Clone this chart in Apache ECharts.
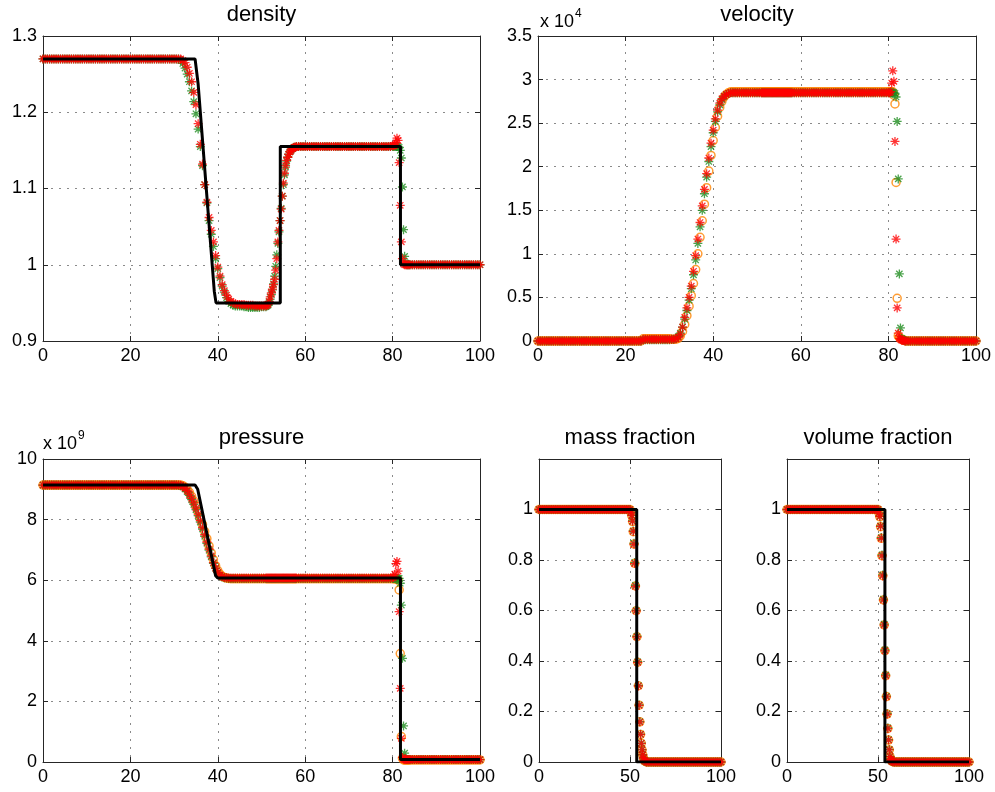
<!DOCTYPE html>
<html><head><meta charset="utf-8">
<script src="https://cdn.jsdelivr.net/npm/echarts@6/dist/echarts.min.js"></script>
<style>html,body{margin:0;padding:0;background:#fff}#c{width:995px;height:792px}</style>
</head><body><div id="c"></div>
<script>
// ---------- shared x grid (cell positions) for density / velocity / pressure ----------
const X = [
  0,0.5,1,1.5,2,2.5,3,3.5,4,4.5, 5,5.5,6,6.5,7,7.5,8,8.5,9,9.5, 10,10.5,11,11.5,12,12.5,13,13.5,14,14.5,
  15,15.5,16,16.5,17,17.5,18,18.5,19,19.5, 20,20.5,21,21.5,22,22.5,23,23.5,24,24.5, 25,25.5,26,26.5,27,27.5,28,28.5,29,29.5, 30,
  30.5,31,31.5,32,32.5,33,33.5,34,34.5,35, 35.5,36,36.5,37,37.5,38,38.5,39,39.5,40, 40.5,41,41.5,42,42.5,43,43.5,44,44.5,45,
  45.5,46,46.5,47,47.5,48,48.5,49,49.5,50,50.5,51,
  51.25,51.5,51.75,52,52.25,52.5,52.75,53,53.25,53.5,53.75,54,54.25,54.5,54.75,55,55.25,55.5,55.75,56,56.25,56.5,56.75,57,57.25,57.5,57.75,58,
  58.5,59,59.5,60,60.5,61,61.5,62,62.5,63, 63.5,64,64.5,65,65.5,66,66.5,67,67.5,68, 68.5,69,69.5,70,70.5,71,71.5,72,72.5,73,
  73.5,74,74.5,75,75.5,76,76.5,77,77.5,78, 78.5,79,79.5,80,
  80.25,80.5,80.75,81,81.25,81.5,81.75,82,82.25,82.5,82.75,83,83.25,83.5,83.75,84,
  84.5,85,85.5,86,86.5,87,87.5,88,88.5,89, 89.5,90,90.5,91,91.5,92,92.5,93,93.5,94, 94.5,95,95.5,96,96.5,97,97.5,98,98.5,99, 99.5,100
];

// ---------- density ----------
const densRed = [
  1.27,1.27,1.27,1.27,1.27,1.27,1.27,1.27,1.27,1.27, 1.27,1.27,1.27,1.27,1.27,1.27,1.27,1.27,1.27,1.27, 1.27,1.27,1.27,1.27,1.27,1.27,1.27,1.27,1.27,1.27,
  1.27,1.27,1.27,1.27,1.27,1.27,1.27,1.27,1.27,1.27, 1.27,1.27,1.27,1.27,1.27,1.27,1.27,1.27,1.27,1.27, 1.27,1.27,1.27,1.27,1.27,1.27,1.27,1.27,1.27,1.27, 1.27,
  1.27,1.27,1.27,1.268,1.265,1.259,1.251,1.24,1.226,1.21, 1.185,1.158,1.132,1.105,1.082,1.062,1.045,1.03,1.012,0.997, 0.985,0.974,0.966,0.96,0.955,0.952,0.95,0.949,0.948,0.948,
  0.948,0.948,0.947,0.947,0.947,0.947,0.946,0.946,0.946,0.946,0.946,0.946,
  0.947,0.948,0.952,0.958,0.963,0.968,0.974,0.981, 0.993,1.008,1.03,1.045,1.058,1.073,1.09,1.107, 1.12,1.13,1.137,1.141,1.145,1.148,1.15,1.152, 1.153,1.154,1.154,1.155,
  1.155,1.155,1.155,1.155,1.155,1.155,1.155,1.155,1.155,1.155, 1.155,1.155,1.155,1.155,1.155,1.155,1.155,1.155,1.155,1.155, 1.155,1.155,1.155,1.155,1.155,1.155,1.155,1.155,1.155,1.155,
  1.155,1.155,1.155,1.155,1.155,1.155,1.155,1.155,1.155,1.155, 1.155,1.155,1.155,1.156,
  1.156,1.157,1.16,1.166,1.163,1.134,1.078,1.03, 1.008,1.001,1.0,1.0,1.0,1.0,1.0,1.0,
  1.0,1.0,1.0,1.0,1.0,1.0,1.0,1.0,1.0,1.0, 1.0,1.0,1.0,1.0,1.0,1.0,1.0,1.0,1.0,1.0, 1.0,1.0,1.0,1.0,1.0,1.0,1.0,1.0,1.0,1.0, 1.0,1.0
];
const densGreen = [
  1.27,1.27,1.27,1.27,1.27,1.27,1.27,1.27,1.27,1.27, 1.27,1.27,1.27,1.27,1.27,1.27,1.27,1.27,1.27,1.27, 1.27,1.27,1.27,1.27,1.27,1.27,1.27,1.27,1.27,1.27,
  1.27,1.27,1.27,1.27,1.27,1.27,1.27,1.27,1.27,1.27, 1.27,1.27,1.27,1.27,1.27,1.27,1.27,1.27,1.27,1.27, 1.27,1.27,1.27,1.27,1.27,1.27,1.27,1.27,1.27,1.27, 1.27,
  1.27,1.27,1.268,1.264,1.258,1.25,1.24,1.228,1.214,1.198, 1.178,1.155,1.13,1.105,1.081,1.058,1.04,1.024,1.008,0.995, 0.983,0.972,0.964,0.957,0.952,0.949,0.947,0.946,0.946,0.946,
  0.946,0.945,0.945,0.944,0.944,0.944,0.944,0.944,0.944,0.945,0.945,0.945,
  0.946,0.947,0.95,0.955,0.961,0.967,0.975,0.985, 0.998,1.013,1.028,1.043,1.058,1.074,1.09,1.105, 1.118,1.128,1.136,1.141,1.145,1.148,1.15,1.152, 1.153,1.154,1.154,1.155,
  1.155,1.155,1.155,1.155,1.155,1.155,1.155,1.155,1.155,1.155, 1.155,1.155,1.155,1.155,1.155,1.155,1.155,1.155,1.155,1.155, 1.155,1.155,1.155,1.155,1.155,1.155,1.155,1.155,1.155,1.155,
  1.155,1.155,1.155,1.155,1.155,1.155,1.155,1.155,1.155,1.155, 1.155,1.155,1.155,1.155,
  1.155,1.155,1.155,1.155,1.155,1.154,1.15,1.14, 1.102,1.046,1.011,1.002,1.0,1.0,1.0,1.0,
  1.0,1.0,1.0,1.0,1.0,1.0,1.0,1.0,1.0,1.0, 1.0,1.0,1.0,1.0,1.0,1.0,1.0,1.0,1.0,1.0, 1.0,1.0,1.0,1.0,1.0,1.0,1.0,1.0,1.0,1.0, 1.0,1.0
];
const densExactX = [0, 34.8, 35.5, 39.2, 39.6, 54.3, 54.3, 81.8, 81.8, 100];
const densExactY = [1.27, 1.27, 1.237, 0.965, 0.95, 0.95, 1.155, 1.155, 1.0, 1.0];

// ---------- velocity (x 10^4) ----------
const velRed = [
  0,0,0,0,0,0,0,0,0,0, 0,0,0,0,0,0,0,0,0,0, 0,0,0,0,0,0,0,0,0,0,
  0,0,0,0,0,0,0,0,0,0, 0,0,0,0,0,0,0,0,0.02,0.02, 0.02,0.02,0.02,0.02,0.02,0.02,0.02,0.02,0.02,0.02, 0.02,
  0.02,0.02,0.025,0.04,0.08,0.16,0.27,0.38,0.5,0.63, 0.8,0.98,1.17,1.36,1.55,1.74,1.92,2.1,2.27,2.42, 2.55,2.65,2.73,2.78,2.81,2.83,2.84,2.85,2.85,2.85,
  2.85,2.85,2.85,2.85,2.85,2.85,2.85,2.85,2.85,2.85,2.85,2.85,
  2.85,2.85,2.85,2.85,2.85,2.85,2.85,2.85, 2.85,2.85,2.85,2.85,2.85,2.85,2.85,2.85, 2.85,2.85,2.85,2.85,2.85,2.85,2.85,2.85, 2.85,2.85,2.85,2.85,
  2.85,2.85,2.85,2.85,2.85,2.85,2.85,2.85,2.85,2.85, 2.85,2.85,2.85,2.85,2.85,2.85,2.85,2.85,2.85,2.85, 2.85,2.85,2.85,2.85,2.85,2.85,2.85,2.85,2.85,2.85,
  2.85,2.85,2.85,2.85,2.85,2.85,2.85,2.85,2.85,2.85, 2.85,2.85,2.85,2.85,
  2.85,2.86,2.96,3.1,2.98,2.29,1.17,0.38, 0.09,0.03,0.02,0.01,0.01,0.005,0,0,
  0,0,0,0,0,0,0,0,0,0, 0,0,0,0,0,0,0,0,0,0, 0,0,0,0,0,0,0,0,0,0, 0,0
];
const velGreen = [
  0,0,0,0,0,0,0,0,0,0, 0,0,0,0,0,0,0,0,0,0, 0,0,0,0,0,0,0,0,0,0,
  0,0,0,0,0,0,0,0,0,0, 0,0,0,0,0,0,0,0,0.015,0.015, 0.015,0.015,0.015,0.015,0.015,0.015,0.015,0.015,0.015,0.015, 0.015,
  0.02,0.02,0.03,0.05,0.09,0.16,0.25,0.35,0.47,0.6, 0.76,0.93,1.12,1.31,1.5,1.69,1.88,2.06,2.23,2.39, 2.52,2.63,2.71,2.77,2.81,2.83,2.84,2.85,2.85,2.85,
  2.85,2.85,2.85,2.85,2.85,2.85,2.85,2.85,2.85,2.85,2.85,2.85,
  2.85,2.85,2.85,2.85,2.85,2.85,2.85,2.85, 2.85,2.85,2.85,2.85,2.85,2.85,2.85,2.85, 2.85,2.85,2.85,2.85,2.85,2.85,2.85,2.85, 2.85,2.85,2.85,2.85,
  2.85,2.85,2.85,2.85,2.85,2.85,2.85,2.85,2.85,2.85, 2.85,2.85,2.85,2.85,2.85,2.85,2.85,2.85,2.85,2.85, 2.85,2.85,2.85,2.85,2.85,2.85,2.85,2.85,2.85,2.85,
  2.85,2.85,2.85,2.85,2.85,2.85,2.85,2.85,2.85,2.85, 2.85,2.85,2.85,2.85,
  2.85,2.85,2.85,2.85,2.85,2.84,2.8,2.52, 1.86,0.77,0.15,0.03,0.02,0.01,0.005,0,
  0,0,0,0,0,0,0,0,0,0, 0,0,0,0,0,0,0,0,0,0, 0,0,0,0,0,0,0,0,0,0, 0,0
];
const velOrange = [
  0,0,0,0,0,0,0,0,0,0, 0,0,0,0,0,0,0,0,0,0, 0,0,0,0,0,0,0,0,0,0,
  0,0,0,0,0,0,0,0,0,0, 0,0,0,0,0,0,0,0,0.025,0.025, 0.025,0.025,0.025,0.025,0.025,0.025,0.025,0.025,0.025,0.025, 0.025,
  0.02,0.02,0.02,0.03,0.06,0.11,0.19,0.29,0.4,0.52, 0.66,0.82,1.0,1.19,1.38,1.57,1.76,1.95,2.13,2.3, 2.45,2.58,2.68,2.75,2.8,2.83,2.85,2.86,2.86,2.86,
  2.86,2.86,2.86,2.86,2.86,2.86,2.86,2.86,2.86,2.86,2.86,2.86,
  2.86,2.86,2.86,2.86,2.86,2.86,2.86,2.86, 2.86,2.86,2.86,2.86,2.86,2.86,2.86,2.86, 2.86,2.86,2.86,2.86,2.86,2.86,2.86,2.86, 2.86,2.86,2.86,2.86,
  2.86,2.86,2.86,2.86,2.86,2.86,2.86,2.86,2.86,2.86, 2.86,2.86,2.86,2.86,2.86,2.86,2.86,2.86,2.86,2.86, 2.86,2.86,2.86,2.86,2.86,2.86,2.86,2.86,2.86,2.86,
  2.86,2.86,2.86,2.86,2.86,2.86,2.86,2.86,2.86,2.86, 2.86,2.86,2.86,2.86,
  2.86,2.86,2.86,2.86,2.82,2.72,1.82,0.49, 0.06,0.04,0.03,0.02,0.015,0.01,0.005,0,
  0,0,0,0,0,0,0,0,0,0, 0,0,0,0,0,0,0,0,0,0, 0,0,0,0,0,0,0,0,0,0, 0,0
];

// ---------- pressure (x 10^9) ----------
const presRed = [
  9.14,9.14,9.14,9.14,9.14,9.14,9.14,9.14,9.14,9.14, 9.14,9.14,9.14,9.14,9.14,9.14,9.14,9.14,9.14,9.14, 9.14,9.14,9.14,9.14,9.14,9.14,9.14,9.14,9.14,9.14,
  9.14,9.14,9.14,9.14,9.14,9.14,9.14,9.14,9.14,9.14, 9.14,9.14,9.14,9.14,9.14,9.14,9.14,9.14,9.14,9.14, 9.14,9.14,9.14,9.14,9.14,9.14,9.14,9.14,9.14,9.14, 9.14,
  9.14,9.14,9.13,9.1,9.04,8.96,8.84,8.7,8.55,8.38, 8.18,7.97,7.74,7.5,7.26,7.03,6.8,6.58,6.4,6.26, 6.17,6.12,6.09,6.08,6.07,6.07,6.07,6.07,6.07,6.07,
  6.07,6.07,6.07,6.07,6.07,6.07,6.07,6.07,6.07,6.07,6.07,6.07,
  6.07,6.07,6.07,6.07,6.07,6.07,6.07,6.07, 6.07,6.07,6.07,6.07,6.07,6.07,6.07,6.07, 6.07,6.07,6.07,6.07,6.07,6.07,6.07,6.07, 6.07,6.07,6.07,6.07,
  6.07,6.07,6.07,6.07,6.07,6.07,6.07,6.07,6.07,6.07, 6.07,6.07,6.07,6.07,6.07,6.07,6.07,6.07,6.07,6.07, 6.07,6.07,6.07,6.07,6.07,6.07,6.07,6.07,6.07,6.07,
  6.07,6.07,6.07,6.07,6.07,6.07,6.07,6.07,6.07,6.07, 6.07,6.07,6.07,6.08,
  6.1,6.2,6.55,6.62,6.3,4.96,2.43,0.78, 0.15,0.09,0.08,0.08,0.08,0.08,0.08,0.08,
  0.08,0.08,0.08,0.08,0.08,0.08,0.08,0.08,0.08,0.08, 0.08,0.08,0.08,0.08,0.08,0.08,0.08,0.08,0.08,0.08, 0.08,0.08,0.08,0.08,0.08,0.08,0.08,0.08,0.08,0.08, 0.08,0.08
];
const presGreen = [
  9.14,9.14,9.14,9.14,9.14,9.14,9.14,9.14,9.14,9.14, 9.14,9.14,9.14,9.14,9.14,9.14,9.14,9.14,9.14,9.14, 9.14,9.14,9.14,9.14,9.14,9.14,9.14,9.14,9.14,9.14,
  9.14,9.14,9.14,9.14,9.14,9.14,9.14,9.14,9.14,9.14, 9.14,9.14,9.14,9.14,9.14,9.14,9.14,9.14,9.14,9.14, 9.14,9.14,9.14,9.14,9.14,9.14,9.14,9.14,9.14,9.14, 9.14,
  9.14,9.13,9.12,9.08,9.01,8.92,8.8,8.66,8.5,8.33, 8.13,7.92,7.69,7.45,7.22,6.99,6.77,6.56,6.39,6.25, 6.16,6.11,6.08,6.07,6.06,6.06,6.06,6.06,6.06,6.06,
  6.06,6.06,6.06,6.06,6.06,6.06,6.06,6.06,6.06,6.06,6.06,6.06,
  6.06,6.06,6.06,6.06,6.06,6.06,6.06,6.06, 6.06,6.06,6.06,6.06,6.06,6.06,6.06,6.06, 6.06,6.06,6.06,6.06,6.06,6.06,6.06,6.06, 6.06,6.06,6.06,6.06,
  6.06,6.06,6.06,6.06,6.06,6.06,6.06,6.06,6.06,6.06, 6.06,6.06,6.06,6.06,6.06,6.06,6.06,6.06,6.06,6.06, 6.06,6.06,6.06,6.06,6.06,6.06,6.06,6.06,6.06,6.06,
  6.06,6.06,6.06,6.06,6.06,6.06,6.06,6.06,6.06,6.06, 6.06,6.06,6.06,6.06,
  6.06,6.06,6.06,6.06,6.06,6.06,5.9,5.18, 3.42,1.19,0.29,0.1,0.08,0.08,0.08,0.08,
  0.08,0.08,0.08,0.08,0.08,0.08,0.08,0.08,0.08,0.08, 0.08,0.08,0.08,0.08,0.08,0.08,0.08,0.08,0.08,0.08, 0.08,0.08,0.08,0.08,0.08,0.08,0.08,0.08,0.08,0.08, 0.08,0.08
];
const presOrange = [
  9.14,9.14,9.14,9.14,9.14,9.14,9.14,9.14,9.14,9.14, 9.14,9.14,9.14,9.14,9.14,9.14,9.14,9.14,9.14,9.14, 9.14,9.14,9.14,9.14,9.14,9.14,9.14,9.14,9.14,9.14,
  9.14,9.14,9.14,9.14,9.14,9.14,9.14,9.14,9.14,9.14, 9.14,9.14,9.14,9.14,9.14,9.14,9.14,9.14,9.14,9.14, 9.14,9.14,9.14,9.14,9.14,9.14,9.14,9.14,9.14,9.14, 9.14,
  9.14,9.14,9.14,9.12,9.07,9.0,8.9,8.77,8.62,8.46, 8.27,8.06,7.84,7.61,7.37,7.13,6.9,6.68,6.48,6.32, 6.2,6.13,6.09,6.07,6.06,6.05,6.05,6.05,6.05,6.05,
  6.05,6.05,6.05,6.05,6.05,6.05,6.05,6.05,6.05,6.05,6.05,6.05,
  6.05,6.05,6.05,6.05,6.05,6.05,6.05,6.05, 6.05,6.05,6.05,6.05,6.05,6.05,6.05,6.05, 6.05,6.05,6.05,6.05,6.05,6.05,6.05,6.05, 6.05,6.05,6.05,6.05,
  6.05,6.05,6.05,6.05,6.05,6.05,6.05,6.05,6.05,6.05, 6.05,6.05,6.05,6.05,6.05,6.05,6.05,6.05,6.05,6.05, 6.05,6.05,6.05,6.05,6.05,6.05,6.05,6.05,6.05,6.05,
  6.05,6.05,6.05,6.05,6.05,6.05,6.05,6.05,6.05,6.05, 6.05,6.05,6.05,6.05,
  6.05,6.05,6.05,6.05,6.0,5.68,3.58,0.84, 0.12,0.07,0.07,0.07,0.07,0.07,0.07,0.07,
  0.07,0.07,0.07,0.07,0.07,0.07,0.07,0.07,0.07,0.07, 0.07,0.07,0.07,0.07,0.07,0.07,0.07,0.07,0.07,0.07, 0.07,0.07,0.07,0.07,0.07,0.07,0.07,0.07,0.07,0.07, 0.07,0.07
];
const presExactX = [0, 34.8, 35.4, 39.5, 40, 81.8, 81.8, 100];
const presExactY = [9.14, 9.14, 9.0, 6.15, 6.07, 6.07, 0.08, 0.08];

// ---------- mass / volume fraction (own x grid) ----------
const fracX = [
  0,1,2,3,4,5,6,7,8,9, 10,11,12,13,14,15,16,17,18,19, 20,21,22,23,24,25,26,27,28,29, 30,31,32,33,34,35,36,37,38,39, 40,41,42,43,44,45,46,47,48,49, 50,
  50.6,51,51.4,51.8,52.2,52.6,53,53.4,53.8,54.2,54.6,55,55.4,55.8,56.2,56.6,57,57.4,57.8,58.2,
  59,60,61,62,63,64,65,66,67,68, 69,70,71,72,73,74,75,76,77,78, 79,80,81,82,83,84,85,86,87,88, 89,90,91,92,93,94,95,96,97,98, 99,100
];
const massOrange = [
  1,1,1,1,1,1,1,1,1,1, 1,1,1,1,1,1,1,1,1,1, 1,1,1,1,1,1,1,1,1,1, 1,1,1,1,1,1,1,1,1,1, 1,1,1,1,1,1,1,1,1,1, 1,
  0.99,0.975,0.952,0.912,0.863,0.787,0.697,0.599,0.496,0.395,0.302,0.225,0.159,0.109,0.074,0.048,0.028,0.015,0.007,0.003,
  0,0,0,0,0,0,0,0,0,0, 0,0,0,0,0,0,0,0,0,0, 0,0,0,0,0,0,0,0,0,0, 0,0,0,0,0,0,0,0,0,0, 0,0
];
const massRed = [
  1,1,1,1,1,1,1,1,1,1, 1,1,1,1,1,1,1,1,1,1, 1,1,1,1,1,1,1,1,1,1, 1,1,1,1,1,1,1,1,1,1, 1,1,1,1,1,1,1,1,1,1, 1,
  0.99,0.976,0.953,0.913,0.862,0.786,0.695,0.598,0.495,0.394,0.301,0.224,0.158,0.109,0.074,0.048,0.028,0.015,0.007,0.003,
  0,0,0,0,0,0,0,0,0,0, 0,0,0,0,0,0,0,0,0,0, 0,0,0,0,0,0,0,0,0,0, 0,0,0,0,0,0,0,0,0,0, 0,0
];
const massGreen = [
  1,1,1,1,1,1,1,1,1,1, 1,1,1,1,1,1,1,1,1,1, 1,1,1,1,1,1,1,1,1,1, 1,1,1,1,1,1,1,1,1,1, 1,1,1,1,1,1,1,1,1,1, 1,
  0.99,0.977,0.955,0.915,0.866,0.79,0.7,0.601,0.498,0.397,0.303,0.226,0.16,0.11,0.075,0.049,0.029,0.016,0.008,0.003,
  0,0,0,0,0,0,0,0,0,0, 0,0,0,0,0,0,0,0,0,0, 0,0,0,0,0,0,0,0,0,0, 0,0,0,0,0,0,0,0,0,0, 0,0
];
const massExactX = [0, 53.7, 53.7, 100];
const massExactY = [1, 1, 0, 0];
const volOrange = [
  1,1,1,1,1,1,1,1,1,1, 1,1,1,1,1,1,1,1,1,1, 1,1,1,1,1,1,1,1,1,1, 1,1,1,1,1,1,1,1,1,1, 1,1,1,1,1,1,1,1,1,1, 1,
  0.985,0.971,0.932,0.886,0.817,0.738,0.642,0.543,0.441,0.342,0.259,0.19,0.133,0.087,0.048,0.021,0.01,0.005,0.002,0.001,
  0,0,0,0,0,0,0,0,0,0, 0,0,0,0,0,0,0,0,0,0, 0,0,0,0,0,0,0,0,0,0, 0,0,0,0,0,0,0,0,0,0, 0,0
];
const volRed = [
  1,1,1,1,1,1,1,1,1,1, 1,1,1,1,1,1,1,1,1,1, 1,1,1,1,1,1,1,1,1,1, 1,1,1,1,1,1,1,1,1,1, 1,1,1,1,1,1,1,1,1,1, 1,
  0.986,0.972,0.933,0.886,0.816,0.737,0.641,0.542,0.44,0.341,0.258,0.189,0.132,0.087,0.048,0.021,0.01,0.005,0.002,0.001,
  0,0,0,0,0,0,0,0,0,0, 0,0,0,0,0,0,0,0,0,0, 0,0,0,0,0,0,0,0,0,0, 0,0,0,0,0,0,0,0,0,0, 0,0
];
const volGreen = [
  1,1,1,1,1,1,1,1,1,1, 1,1,1,1,1,1,1,1,1,1, 1,1,1,1,1,1,1,1,1,1, 1,1,1,1,1,1,1,1,1,1, 1,1,1,1,1,1,1,1,1,1, 1,
  0.987,0.973,0.935,0.889,0.82,0.741,0.645,0.546,0.444,0.345,0.261,0.192,0.135,0.089,0.05,0.022,0.011,0.005,0.002,0.001,
  0,0,0,0,0,0,0,0,0,0, 0,0,0,0,0,0,0,0,0,0, 0,0,0,0,0,0,0,0,0,0, 0,0,0,0,0,0,0,0,0,0, 0,0
];
const volExactX = [0, 53.8, 53.8, 100];
const volExactY = [1, 1, 0, 0];

// ---------- panel titles and tick settings ----------
const titles = ['density', 'velocity', 'pressure', 'mass fraction', 'volume fraction'];
const xTicks = [
  {min: 0, max: 100, interval: 20}, {min: 0, max: 100, interval: 20}, {min: 0, max: 100, interval: 20},
  {min: 0, max: 100, interval: 50}, {min: 0, max: 100, interval: 50}
];
const yTicks = [
  {min: 0.9, max: 1.3, interval: 0.1}, {min: 0, max: 3.5, interval: 0.5}, {min: 0, max: 10, interval: 2},
  {min: 0, max: 1.2, interval: 0.2}, {min: 0, max: 1.2, interval: 0.2}
];

// ---------- build ----------
const FONT = '"Liberation Sans", Arial, Helvetica, sans-serif';
const AX = '#262626';
const RED = '#ff0000', GREEN = '#1e8c1e', ORANGE = '#ff8400';
const AST = 'path://M0,5L10,5M5,0L5,10M1.5,1.5L8.5,8.5M1.5,8.5L8.5,1.5';

const grids = [
  {left: 43, top: 36, width: 437, height: 305},
  {left: 538, top: 36, width: 438, height: 305},
  {left: 43, top: 459, width: 437, height: 303},
  {left: 539, top: 459, width: 182, height: 303},
  {left: 787, top: 459, width: 182, height: 303}
];

function zip(xs, ys) {
  if (xs.length !== ys.length) console.warn('length mismatch', xs.length, ys.length);
  return xs.map((x, i) => [x, ys[i]]);
}

const xAxes = [], yAxes = [];
grids.forEach((g, i) => {
  const base = {type: 'value', gridIndex: i};
  xAxes.push(Object.assign({}, base, xTicks[i], {
    position: 'bottom',
    axisLine: {show: true, onZero: false, lineStyle: {color: AX, width: 1}},
    axisTick: {show: true, inside: true, length: 5, lineStyle: {color: AX}},
    axisLabel: {show: true, margin: 6, color: '#000', fontSize: 18, fontFamily: FONT},
    splitLine: {show: true, lineStyle: {type: [2, 6], color: '#8a8a8a', width: 1}}
  }));
  xAxes.push(Object.assign({}, base, xTicks[i], {
    position: 'top',
    axisLine: {show: true, onZero: false, lineStyle: {color: AX, width: 1}},
    axisTick: {show: true, inside: true, length: 5, lineStyle: {color: AX}},
    axisLabel: {show: false}, splitLine: {show: false}
  }));
  const frac = i >= 3;
  yAxes.push(Object.assign({}, base, yTicks[i], {
    position: 'left',
    axisLine: {show: true, onZero: false, lineStyle: {color: AX, width: 1}},
    axisTick: {show: true, inside: true, length: 5, lineStyle: {color: AX}},
    axisLabel: {show: true, margin: 6, color: '#000', fontSize: 18, fontFamily: FONT, showMaxLabel: !frac},
    splitLine: {show: true, lineStyle: {type: [2, 6], color: '#8a8a8a', width: 1}}
  }));
  yAxes.push(Object.assign({}, base, yTicks[i], {
    position: 'right',
    axisLine: {show: true, onZero: false, lineStyle: {color: AX, width: 1}},
    axisTick: {show: true, inside: true, length: 5, lineStyle: {color: AX}},
    axisLabel: {show: false}, splitLine: {show: false}
  }));
});

function star(i, xs, ys, color) {
  return {type: 'scatter', xAxisIndex: 2 * i, yAxisIndex: 2 * i, data: zip(xs, ys),
    symbol: AST, symbolSize: 9, clip: false, silent: true,
    itemStyle: {color: 'rgba(0,0,0,0)', borderColor: color, borderWidth: 1.3},
    emphasis: {disabled: true}};
}
function ring(i, xs, ys) {
  return {type: 'scatter', xAxisIndex: 2 * i, yAxisIndex: 2 * i, data: zip(xs, ys),
    symbol: 'circle', symbolSize: 8, clip: false, silent: true,
    itemStyle: {color: 'rgba(0,0,0,0)', borderColor: ORANGE, borderWidth: 1.5},
    emphasis: {disabled: true}};
}
function exact(i, xs, ys) {
  return {type: 'line', xAxisIndex: 2 * i, yAxisIndex: 2 * i, data: zip(xs, ys),
    symbol: 'none', showSymbol: false, silent: true,
    lineStyle: {color: '#000', width: 3}, emphasis: {disabled: true}};
}

const series = [
  exact(0, densExactX, densExactY), star(0, X, densGreen, GREEN), star(0, X, densRed, RED),
  ring(1, X, velOrange), star(1, X, velGreen, GREEN), star(1, X, velRed, RED),
  exact(2, presExactX, presExactY), ring(2, X, presOrange), star(2, X, presGreen, GREEN), star(2, X, presRed, RED),
  ring(3, fracX, massOrange), star(3, fracX, massGreen, GREEN), star(3, fracX, massRed, RED), exact(3, massExactX, massExactY),
  ring(4, fracX, volOrange), star(4, fracX, volGreen, GREEN), star(4, fracX, volRed, RED), exact(4, volExactX, volExactY)
];

const graphic = [];
grids.forEach((g, i) => {
  graphic.push({type: 'text', x: g.left + g.width / 2, y: g.top - 21, silent: true,
    style: {text: titles[i], font: '22px ' + FONT, fill: '#000', textAlign: 'center', textVerticalAlign: 'middle'}});
});
// axis multipliers
graphic.push({type: 'text', x: 540, y: 22, silent: true, style: {text: 'x 10', font: '18px ' + FONT, fill: '#000', textAlign: 'left', textVerticalAlign: 'middle'}});
graphic.push({type: 'text', x: 575, y: 14, silent: true, style: {text: '4', font: '12px ' + FONT, fill: '#000', textAlign: 'left', textVerticalAlign: 'middle'}});
graphic.push({type: 'text', x: 43, y: 444, silent: true, style: {text: 'x 10', font: '18px ' + FONT, fill: '#000', textAlign: 'left', textVerticalAlign: 'middle'}});
graphic.push({type: 'text', x: 78, y: 436, silent: true, style: {text: '9', font: '12px ' + FONT, fill: '#000', textAlign: 'left', textVerticalAlign: 'middle'}});

const chart = echarts.init(document.getElementById('c'), null, {renderer: 'canvas'});
chart.setOption({
  backgroundColor: '#fff',
  animation: false,
  grid: grids,
  xAxis: xAxes,
  yAxis: yAxes,
  series: series,
  graphic: graphic
});
</script>
</body></html>
